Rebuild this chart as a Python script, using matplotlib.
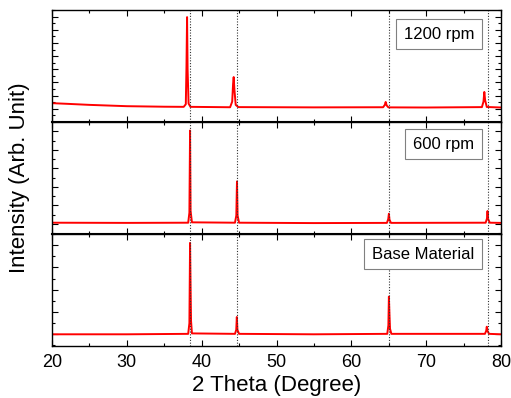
import matplotlib.pyplot as plt
from matplotlib.ticker import MultipleLocator

plt.rcParams["font.family"] = ["Liberation Sans", "DejaVu Sans"]

# peak reference positions (dotted guide lines)
REF_LINES = [38.45, 44.72, 65.0, 78.2]

# 1200 rpm pattern (2theta, counts)
TOP_X = [20.0, 22.0, 25.0, 30.0, 35.0, 37.6, 37.88, 37.97, 38.05, 38.12, 38.25, 38.5,
         43.8, 44.08, 44.2, 44.28, 44.37, 44.55, 44.9, 55.0,
         64.25, 64.47, 64.59, 64.72, 64.95, 70.0,
         77.45, 77.66, 77.77, 77.88, 78.1, 80.0]
TOP_Y = [1430, 1380, 1300, 1200, 1160, 1150, 1350, 4200, 7960, 4000, 1400, 1150,
         1120, 1550, 2900, 3410, 2500, 1300, 1130, 1110,
         1120, 1300, 1520, 1260, 1110, 1100,
         1130, 1550, 2280, 1650, 1140, 1100]

# 600 rpm pattern
MID_X = [20.0, 30.0, 38.2, 38.36, 38.45, 38.52, 38.7,
         44.45, 44.63, 44.72, 44.8, 45.0, 55.0,
         64.75, 64.93, 65.02, 65.1, 65.3,
         77.95, 78.12, 78.2, 78.28, 78.5, 80.0]
MID_Y = [60, 50, 60, 600, 5040, 700, 80,
         60, 450, 2290, 450, 60, 40,
         50, 250, 540, 220, 50,
         60, 280, 690, 260, 60, 50]

# base material pattern
BASE_X = [20.0, 30.0, 38.2, 38.36, 38.45, 38.52, 38.58, 38.7,
          44.45, 44.62, 44.7, 44.78, 45.0, 55.0,
          64.8, 64.95, 65.02, 65.1, 65.17, 65.35,
          77.85, 78.02, 78.1, 78.2, 78.4, 80.0]
BASE_Y = [0, 0, 20, 500, 4100, 2100, 600, 40,
          20, 200, 775, 200, 20, 0,
          20, 400, 1690, 860, 250, 20,
          20, 150, 340, 150, 20, 0]

PANELS = [
    (TOP_X, TOP_Y, (0, 8500), "1200 rpm", 0.783),
    (MID_X, MID_Y, (-550, 5500), "600 rpm", 0.80),
    (BASE_X, BASE_Y, (-525, 4500), "Base Material", 0.819),
]

fig = plt.figure(figsize=(5.11, 3.98), dpi=100)
left, width = 52 / 511, 449 / 511
h = 112 / 398
bottom0 = 52 / 398

axes = []
for i, (xs, ys, ylim, label, ty) in enumerate(PANELS):
    b = bottom0 + (2 - i) * h
    ax = fig.add_axes([left, b, width, h])
    axes.append(ax)
    ax.plot(xs, ys, color="red", lw=1.4)
    for xv in REF_LINES:
        ax.axvline(xv, color="#333333", ls=(0, (1, 1.5)), lw=0.8)
    ax.set_xlim(20, 80)
    ax.set_ylim(*ylim)
    ax.xaxis.set_major_locator(MultipleLocator(10))
    ax.xaxis.set_minor_locator(MultipleLocator(5))
    ax.yaxis.set_major_locator(MultipleLocator(1000))
    ax.yaxis.set_minor_locator(MultipleLocator(500))
    ax.tick_params(which="both", direction="in", top=True, right=True,
                   labelleft=False, labelbottom=(i == 2), labelsize=13, pad=6)
    ax.tick_params(which="major", length=4.5, width=0.8)
    ax.tick_params(which="minor", length=2.5, width=0.8)
    for s in ax.spines.values():
        s.set_linewidth(1.0)
    if i < 2:
        ax.spines["bottom"].set_linewidth(1.5)
    ax.text(0.94, ty, label, transform=ax.transAxes, ha="right", va="center",
            fontsize=12,
            bbox=dict(boxstyle="square,pad=0.45", fc="white", ec="#808080", lw=0.8))

axes[2].set_xlabel("2 Theta (Degree)", fontsize=16, labelpad=3)
fig.text(0.038, (bottom0 + 1.5 * h), "Intensity (Arb. Unit)", rotation=90,
         ha="center", va="center", fontsize=16)

fig.savefig("out.png", dpi=100)
plt.close(fig)
